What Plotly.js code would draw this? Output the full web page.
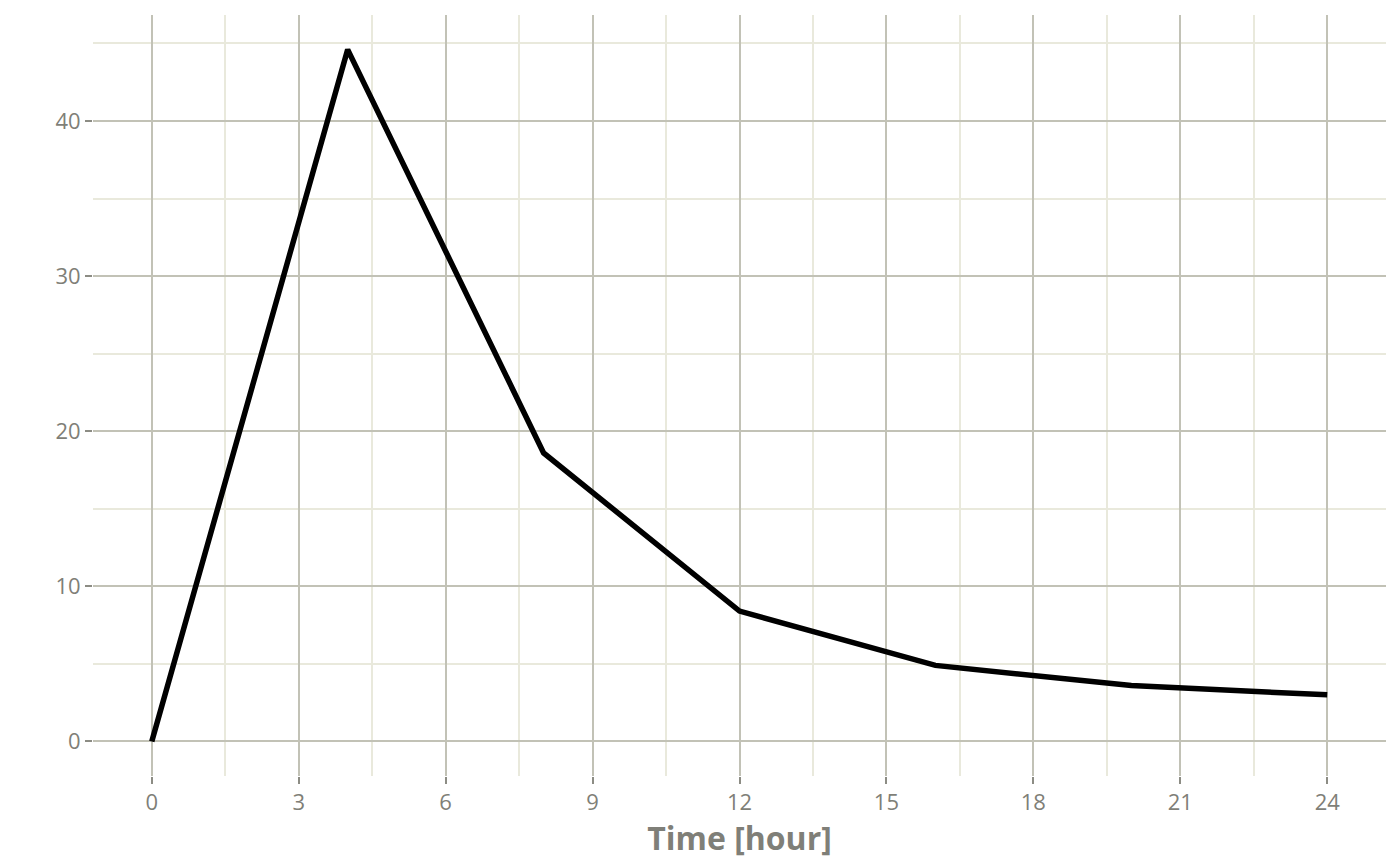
<!DOCTYPE html>
<html>
<head>
<meta charset="utf-8">
<script src="https://cdn.plot.ly/plotly-3.0.1.min.js"></script>
<style>
  html, body { margin: 0; padding: 0; background: #fff; }
  #chart { width: 1400px; height: 865px; }
</style>
</head>
<body>
<div id="chart"></div>
<script>
/***** concentration over time *****/
var timeHours = [0, 4, 8, 12, 16, 20, 24];
var concentration = [0, 44.6, 18.6, 8.4, 4.9, 3.6, 3.0];
var xTicks = [0, 3, 6, 9, 12, 15, 18, 21, 24];
var yTicks = [0, 10, 20, 30, 40];

var majorGrid = '#c2c2b6';
var minorGrid = '#e9e9dc';
var textGray = '#7f7f78';

var curve = {
  x: timeHours,
  y: concentration,
  type: 'scatter',
  mode: 'lines',
  line: {
    color: '#000000',
    width: 5.5
  },
  hoverinfo: 'x+y'
};

var layout = {
  width: 1400,
  height: 865,
  margin: { l: 93, r: 14, t: 15, b: 89 },
  paper_bgcolor: '#ffffff',
  plot_bgcolor: '#ffffff',
  showlegend: false,
  font: { family: 'Open Sans, Noto Sans, sans-serif', color: textGray },
  xaxis: {
    range: [-1.2, 25.2],
    tickvals: xTicks,
    ticktext: xTicks.map(String),
    ticks: 'outside',
    ticklen: 7,
    tickwidth: 2,
    tickcolor: '#8c8c84',
    tickfont: { size: 22, color: textGray },
    showgrid: true,
    gridcolor: majorGrid,
    gridwidth: 2,
    minor: {
      dtick: 1.5,
      tick0: 0,
      showgrid: true,
      gridcolor: minorGrid,
      gridwidth: 2,
      ticks: ''
    },
    zeroline: false,
    showline: false,
    automargin: false,
    title: {
      text: '<b>Time [hour]</b>',
      font: { size: 32, color: textGray },
      standoff: 5
    }
  },
  yaxis: {
    range: [-2.23, 46.83],
    tickvals: yTicks,
    ticktext: yTicks.map(String),
    ticks: 'outside',
    ticklen: 7,
    tickwidth: 2,
    tickcolor: '#8c8c84',
    tickfont: { size: 22, color: textGray },
    showgrid: true,
    gridcolor: majorGrid,
    gridwidth: 2,
    minor: {
      dtick: 5,
      tick0: 0,
      showgrid: true,
      gridcolor: minorGrid,
      gridwidth: 2,
      ticks: ''
    },
    zeroline: false,
    showline: false,
    automargin: false
  }
};

var config = { staticPlot: true, displayModeBar: false };

Plotly.newPlot('chart', [curve], layout, config);
</script>
</body>
</html>
